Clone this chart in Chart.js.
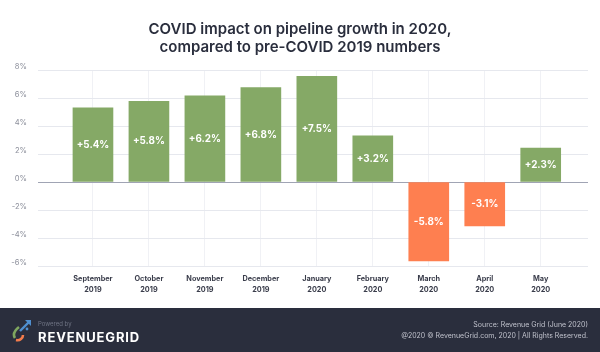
<!DOCTYPE html>
<html>
<head>
<meta charset="utf-8">
<script src="https://cdn.jsdelivr.net/npm/chart.js@4"></script>
<style>
    html, body { margin: 0; padding: 0; background: #fff; }
    #wrap { position: relative; width: 600px; height: 352px; overflow: hidden; font-family: Inter, sans-serif; }
    #chartBox { position: absolute; left: 0; top: 0; width: 600px; height: 308px; }
    #title { position: absolute; left: 0; top: 20px; width: 600px; text-align: center; font-size: 15px; line-height: 17.5px; font-weight: 600; color: #2a2e3d; will-change: transform; }
    #footer { position: absolute; left: 0; top: 308px; width: 600px; height: 44px; background: #2a2e3d; will-change: transform; }
    #footer div { position: absolute; white-space: nowrap; }
    #powered { left: 38px; top: 11px; font-size: 6px; line-height: 10px; color: #6f7484; }
    #brand { left: 38px; top: 20px; font-size: 13px; line-height: 18px; font-weight: 700; letter-spacing: 0.85px; color: #fff; }
    #source { right: 12px; top: 11px; font-size: 7px; line-height: 11px; color: #c0c2cc; text-align: right; }
    #rights { right: 12px; top: 22px; font-size: 7px; line-height: 11px; color: #c0c2cc; text-align: right; }
    #logo { position: absolute; left: 12px; top: 9px; }
</style>
</head>
<body>
<div id="wrap">
    <div id="chartBox"><canvas id="growthChart"></canvas></div>
    <div id="title">COVID impact on pipeline growth in 2020,<br>compared to pre-COVID 2019 numbers</div>
    <div id="footer">
        <svg id="logo" width="20" height="26" viewBox="0 0 20 26">
            <path d="M8 14 L17 5" stroke="#4f8fd0" stroke-width="2.4" fill="none"/>
            <path d="M13 3 L19 3 L19 9 Z" fill="#4f8fd0"/>
            <circle cx="15" cy="12" r="1.4" fill="#4f8fd0"/>
            <path d="M7 10 C2 14 1 18 3 21" stroke="#7fa65f" stroke-width="2.6" fill="none"/>
            <path d="M4 23 C8 24 11 21 11 18" stroke="#f47c4c" stroke-width="2.6" fill="none"/>
        </svg>
        <div id="powered">Powered by</div>
        <div id="brand">REVENUEGRID</div>
        <div id="source">Source: Revenue Grid (June 2020)</div>
        <div id="rights">@2020 © RevenueGrid.com, 2020 | All Rights Reserved.</div>
    </div>
</div>
<script>
var months = [['September', '2019'], ['October', '2019'], ['November', '2019'], ['December', '2019'],
    ['January', '2020'], ['February', '2020'], ['March', '2020'], ['April', '2020'], ['May', '2020']];
var barValues = [5.3, 5.76, 6.16, 6.74, 7.55, 3.3, -5.64, -3.14, 2.43];
var barLabels = ['+5.4%', '+5.8%', '+6.2%', '+6.8%', '+7.5%', '+3.2%', '-5.8%', '-3.1%', '+2.3%'];

var green = '#85a966';
var orange = '#fe7f50';

// white value labels, centred inside each bar
var barLabelPlugin = {
    id: 'barLabelPlugin',
    afterDatasetsDraw: function (chart) {
        var ctx = chart.ctx;
        ctx.save();
        ctx.fillStyle = '#fff';
        ctx.font = '700 9.8px Inter, sans-serif';
        ctx.textAlign = 'center';
        ctx.textBaseline = 'middle';
        chart.getDatasetMeta(0).data.forEach(function (bar, i) {
            ctx.fillText(barLabels[i], bar.x, (bar.y + bar.base) / 2);
        });
        ctx.restore();
    }
};

new Chart(document.getElementById('growthChart').getContext('2d'), {
    type: 'bar',
    plugins: [barLabelPlugin],
    data: {
        datasets: [{
            data: barValues.map(function (v, i) { return { x: i, y: v }; }),
            backgroundColor: barValues.map(function (v) { return v < 0 ? orange : green; }),
            barThickness: 40
        }]
    },
    options: {
        responsive: true,
        maintainAspectRatio: false,
        animation: false,
        layout: { padding: { left: 0, right: 12, top: 70, bottom: 0 } },
        plugins: {
            legend: { display: false },
            tooltip: { enabled: false }
        },
        scales: {
            x: {
                type: 'linear',
                offset: false,
                min: -0.982,
                max: 8.845,
                grid: { offset: false, color: '#f0f1f5', drawTicks: false },
                border: { display: false },
                afterFit: function (scale) { scale.height = 42; },
                ticks: {
                    stepSize: 1,
                    includeBounds: false,
                    autoSkip: false,
                    maxRotation: 0,
                    padding: 8,
                    color: '#3a3d4b',
                    font: { family: 'Inter, sans-serif', size: 7.3, weight: '700', lineHeight: 1.44 },
                    callback: function (value) { return months[value]; }
                }
            },
            y: {
                min: -6,
                max: 8,
                grid: {
                    drawTicks: false,
                    color: function (c) { return c.tick.value === 0 ? '#a0a4b4' : '#e6e8ee'; }
                },
                border: { display: false },
                afterFit: function (scale) { scale.width = 38; },
                ticks: {
                    stepSize: 2,
                    padding: 11,
                    labelOffset: -3,
                    color: '#8d909c',
                    font: { family: 'Inter, sans-serif', size: 7.6 },
                    callback: function (value) { return value + '%'; }
                }
            }
        }
    }
});
</script>
</body>
</html>
